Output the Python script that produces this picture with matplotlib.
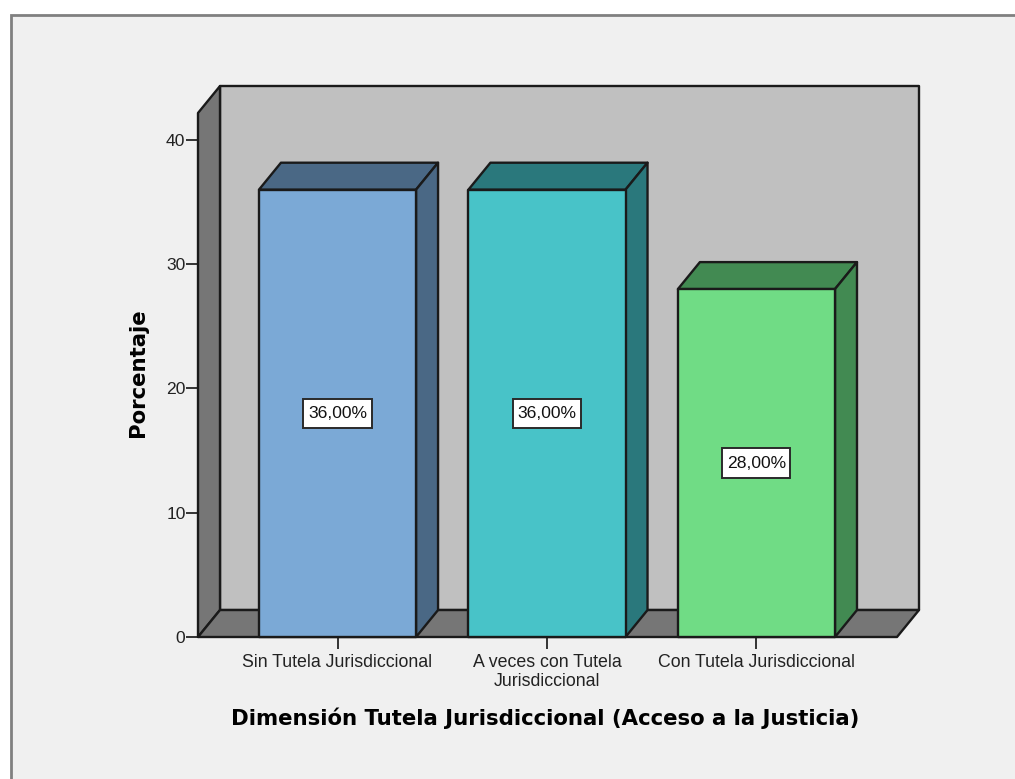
import matplotlib
matplotlib.use("Agg")
import matplotlib.pyplot as plt
from matplotlib.patches import Polygon, Rectangle

categories = ["Sin Tutela Jurisdiccional", "A veces con Tutela\nJurisdiccional", "Con Tutela Jurisdiccional"]
values = [36, 36, 28]
labels = ["36,00%", "36,00%", "28,00%"]
front_colors = ["#7ba9d6", "#48c3c8", "#70dc85"]
side_colors = ["#4a6885", "#2a787c", "#428a52"]
y_ticks = [0, 10, 20, 30, 40]

W, H = 1015, 779
fig = plt.figure(figsize=(W / 100, H / 100), dpi=100, facecolor="white")

# grey frame, runs off the right and bottom edge
fig.patches.append(Rectangle((11 / W, -0.01), 1.02, (H - 15) / H + 0.01, transform=fig.transFigure,
                             facecolor="#f0f0f0", edgecolor="#808080", linewidth=2, zorder=-5))

ax = fig.add_axes([198 / W, (H - 637) / H, (897 - 198) / W, (637 - 113) / H])
ax.set_xlim(-0.666, 2.671)
ax.set_ylim(0, 42.17)
ax.patch.set_visible(False)
for s in ax.spines.values():
    s.set_visible(False)

# depth of the fake 3d box, in data units
dx = 0.105
dy = 2.17
x0, x1 = ax.get_xlim()
y0, y1 = ax.get_ylim()
edge = "#1a1a1a"
lw = 1.7


def poly(pts, color, z):
    ax.add_patch(Polygon(pts, closed=True, facecolor=color, edgecolor=edge, linewidth=lw,
                         clip_on=False, zorder=z, joinstyle="round"))


poly([(x0 + dx, y0 + dy), (x1 + dx, y0 + dy), (x1 + dx, y1 + dy), (x0 + dx, y1 + dy)], "#c0c0c0", 1)
poly([(x0, y0), (x0 + dx, y0 + dy), (x0 + dx, y1 + dy), (x0, y1)], "#767676", 2)
poly([(x0, y0), (x1, y0), (x1 + dx, y0 + dy), (x0 + dx, y0 + dy)], "#767676", 2)

w = 0.75
box_w = 0.325
box_h = 2.35
for i, v in enumerate(values):
    l, r = i - w / 2, i + w / 2
    poly([(l, v), (r, v), (r + dx, v + dy), (l + dx, v + dy)], side_colors[i], 3)
    poly([(r, 0), (r + dx, dy), (r + dx, v + dy), (r, v)], side_colors[i], 3)
    poly([(l, 0), (r, 0), (r, v), (l, v)], front_colors[i], 4)
    # value label in a white box
    ax.add_patch(Rectangle((i - box_w / 2, v / 2 - box_h / 2), box_w, box_h, facecolor="white",
                           edgecolor="#2a2a2a", linewidth=1.4, zorder=5))
    ax.text(i, v / 2, labels[i], ha="center", va="center", fontsize=12.6, family="Liberation Sans",
            color="#111111", zorder=6)

ax.set_xticks(range(3))
ax.set_xticklabels(categories, fontsize=12.8, family="Liberation Sans", color="#222222", linespacing=1.15)
ax.set_yticks(y_ticks)
ax.set_yticklabels([str(t) for t in y_ticks], fontsize=12.6, family="Liberation Sans", color="#222222")
ax.tick_params(axis="x", length=8.5, width=1.4, color="#333333", pad=3.5)
ax.tick_params(axis="y", length=8.5, width=1.4, color="#333333", pad=0.5)

fig.text(545.5 / W, (H - 718) / H, "Dimensión Tutela Jurisdiccional (Acceso a la Justicia)", ha="center", va="center",
         fontsize=15.3, fontweight="bold", family="DejaVu Sans", color="black")
fig.text(138 / W, (H - 373) / H, "Porcentaje", ha="center", va="center", rotation=90,
         fontsize=15.3, fontweight="bold", family="DejaVu Sans", color="black")

fig.savefig("out.png", dpi=100, facecolor="white")
